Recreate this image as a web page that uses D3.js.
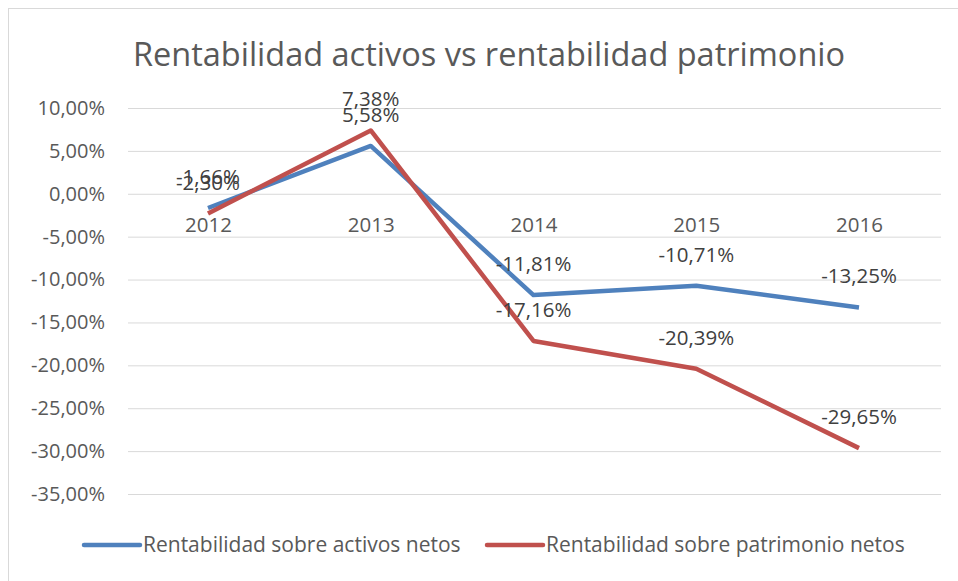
<!DOCTYPE html>
<html>
<head>
<meta charset="utf-8">
<script src="https://cdn.jsdelivr.net/npm/d3@7"></script>
<style>
  body { margin: 0; background: #fff; }
  text { font-family: "Open Sans", Lato, sans-serif; fill: #595959; }
</style>
</head>
<body>
<div id="chart"></div>
<script>
const years = ["2012", "2013", "2014", "2015", "2016"];
const activos = [-1.66, 5.58, -11.81, -10.71, -13.25];
const patrimonio = [-2.30, 7.38, -17.16, -20.39, -29.65];
const yTicks = [10, 5, 0, -5, -10, -15, -20, -25, -30, -35];
const seriesNames = ["Rentabilidad sobre activos netos", "Rentabilidad sobre patrimonio netos"];
const colors = ["#4f81bd", "#c0504d"];

const W = 958, H = 581;
const svg = d3.select("#chart").append("svg")
    .attr("width", W)
    .attr("height", H);

// chart frame
svg.append("rect")
    .attr("x", 8.5).attr("y", 8.5)
    .attr("width", W).attr("height", H)
    .attr("fill", "#fff")
    .attr("stroke", "#d9d9d9");

const x = d3.scalePoint().domain(years).range([208, 859]);
const y = d3.scaleLinear().domain([-35, 10]).range([494, 108]);

svg.append("text")
    .attr("x", 489).attr("y", 66)
    .attr("text-anchor", "middle")
    .style("font-size", "32.5px")
    .text("Rentabilidad activos vs rentabilidad patrimonio");

// excel style: comma decimals, plain hyphen
const fmt = v => v.toFixed(2).replace(".", ",") + "%";

// gridlines + y labels
const yAxis = d3.axisLeft(y)
    .tickValues(yTicks)
    .tickSize(-(941 - 128))
    .tickPadding(23)
    .tickFormat(fmt);

const gy = svg.append("g")
    .attr("transform", "translate(128,0)")
    .call(yAxis);
gy.select(".domain").remove();
gy.selectAll(".tick line").attr("stroke", "#d9d9d9");
gy.selectAll(".tick text").style("font-size", "20px").attr("fill", "#595959");

// category labels sit under the zero line
const gx = svg.append("g")
    .attr("transform", "translate(0," + y(0) + ")")
    .call(d3.axisBottom(x).tickSize(0).tickPadding(24));
gx.select(".domain").remove();
gx.selectAll(".tick text").style("font-size", "20.5px").attr("fill", "#595959");

const line = d3.line()
    .x((d, i) => x(years[i]))
    .y(d => y(d));

[activos, patrimonio].forEach((vals, k) => {
  svg.append("path")
      .datum(vals)
      .attr("fill", "none")
      .attr("stroke", colors[k])
      .attr("stroke-width", 4.5)
      .attr("stroke-linejoin", "round")
      .attr("d", line);
});

[activos, patrimonio].forEach(vals => {
  svg.append("g").selectAll("text")
      .data(vals)
      .join("text")
      .attr("x", (d, i) => x(years[i]))
      .attr("y", d => y(d) - 24)
      .attr("text-anchor", "middle")
      .style("font-size", "20.5px")
      .style("fill", "#404040")
      .text(fmt);
});

// legend
const legendX = [84, 487];
seriesNames.forEach((name, k) => {
  const g = svg.append("g").attr("transform", "translate(" + legendX[k] + ",545)");
  g.append("line")
      .attr("x1", 0).attr("x2", 56)
      .attr("stroke", colors[k])
      .attr("stroke-width", 4.5)
      .attr("stroke-linecap", "round");
  g.append("text")
      .attr("x", 59).attr("y", 7)
      .style("font-size", "21px")
      .text(name);
});
</script>
</body>
</html>
